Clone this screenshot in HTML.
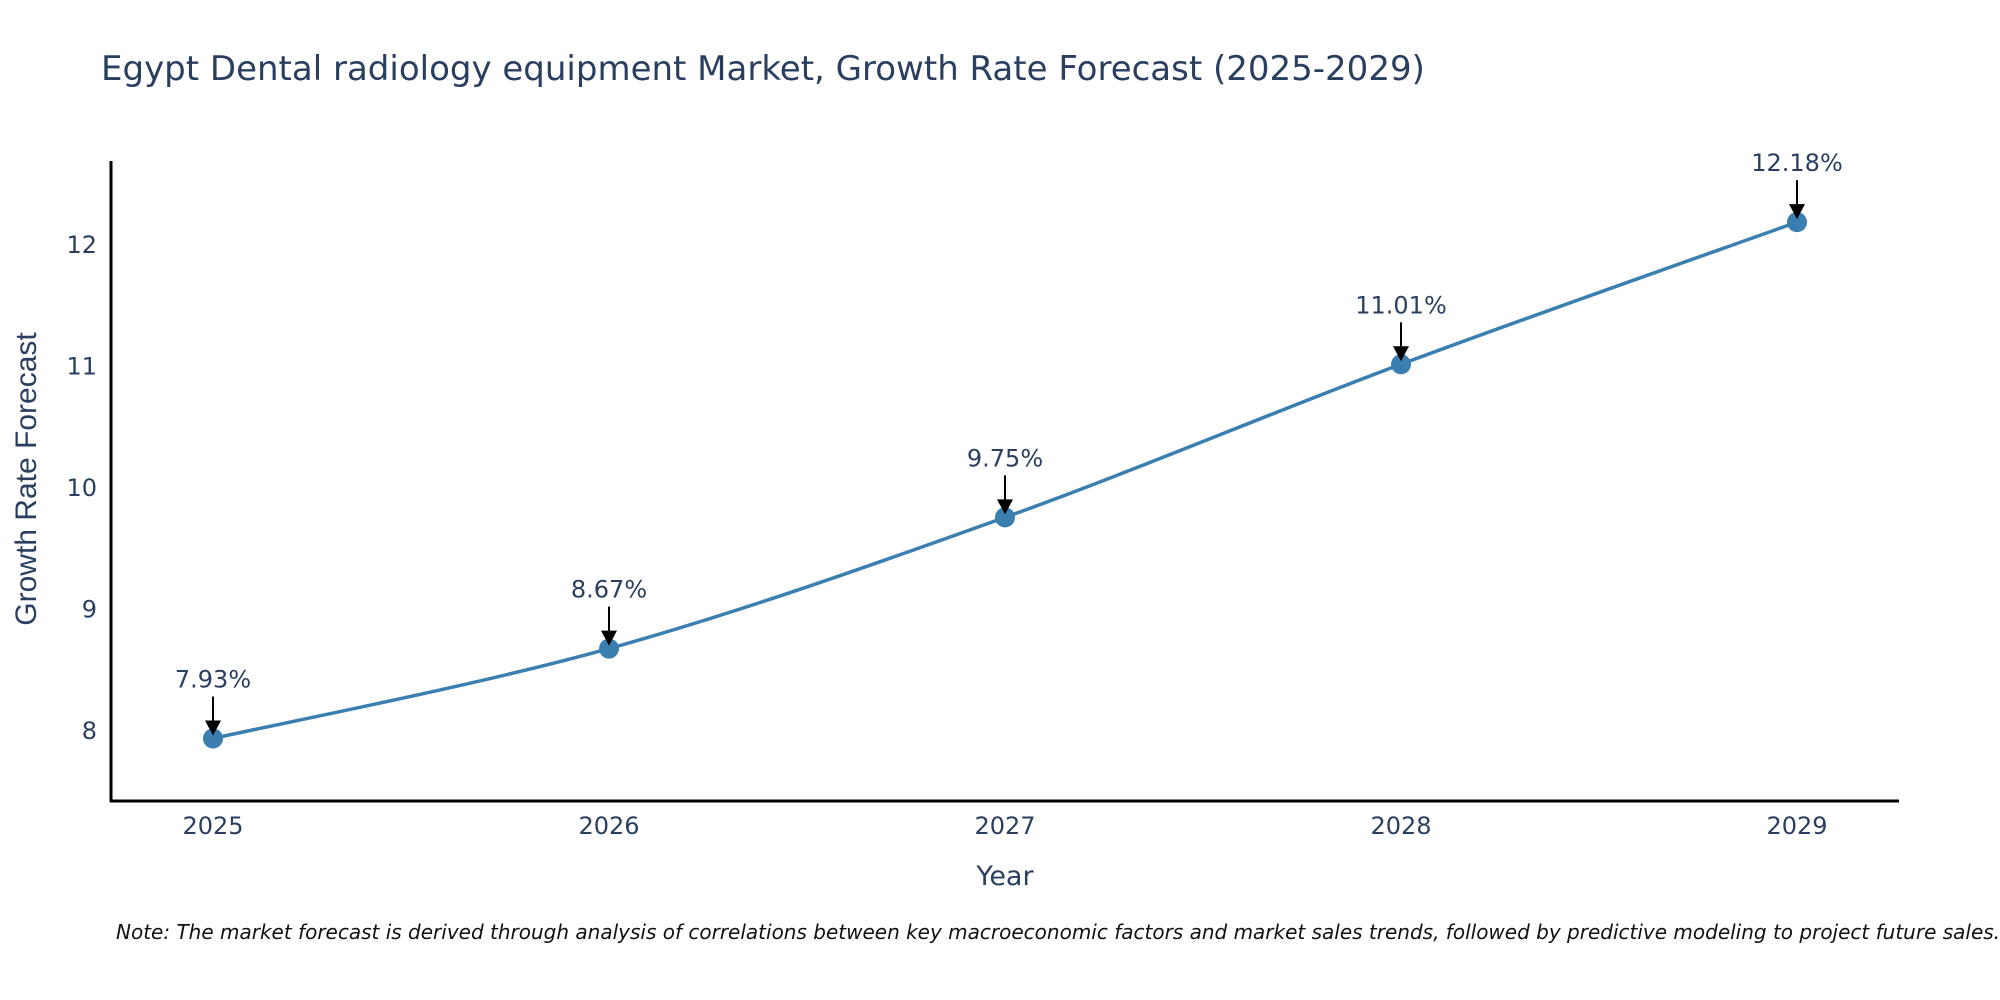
<!DOCTYPE html>
<html><head><meta charset="utf-8"><style>
body{margin:0;background:#fff;}
svg{display:block;font-family:"DejaVu Sans","Liberation Sans",sans-serif;}
</style></head><body>
<svg id="chart" width="2000" height="1000">
<text x="101" y="80" font-size="34" fill="#2a3f5f">Egypt Dental radiology equipment Market, Growth Rate Forecast (2025-2029)</text>
<g id="plot"></g>
<text x="1005" y="885" font-size="27" fill="#2a3f5f" text-anchor="middle">Year</text>
<text transform="translate(36,479) rotate(-90)" font-size="30" font-family="Liberation Sans, sans-serif" fill="#2a3f5f" text-anchor="middle">Growth Rate Forecast</text>
<text x="116" y="939" font-size="20" font-style="italic" fill="#111">Note: The market forecast is derived through analysis of correlations between key macroeconomic factors and market sales trends, followed by predictive modeling to project future sales.</text>
</svg>
<script>
const years = [2025, 2026, 2027, 2028, 2029];
const values = [7.93, 8.67, 9.75, 11.01, 12.18];
const yTicks = [8, 9, 10, 11, 12];
const NS = 'http://www.w3.org/2000/svg';
const g = document.getElementById('plot');
function xs(v){return 213 + (v-2025)*396;}
function ys(v){return 730 - (v-8)*121.5;}
function el(t,a,p){const e=document.createElementNS(NS,t);for(const k in a)e.setAttribute(k,a[k]);(p||g).appendChild(e);return e;}
let e;
e=el('line',{x1:111,y1:161,x2:111,y2:802,stroke:'#000','stroke-width':3});


e=el('line',{x1:110,y1:801,x2:1899,y2:801,stroke:'#000','stroke-width':3});


yTicks.forEach(t=>{
  const tx=el('text',{x:97,y:ys(t)+9,'font-size':24,fill:'#2a3f5f','text-anchor':'end'});
  tx.textContent=t;
  
  
});
years.forEach(y=>{
  const tx=el('text',{x:xs(y),y:834,'font-size':24,fill:'#2a3f5f','text-anchor':'middle'});
  tx.textContent=y;
  
  
});
const pts=years.map((y,i)=>[xs(y),ys(values[i])]);
let d='M'+pts[0][0]+','+pts[0][1];
for(let i=0;i<pts.length-1;i++){
  const p0=pts[Math.max(i-1,0)],p1=pts[i],p2=pts[i+1],p3=pts[Math.min(i+2,pts.length-1)];
  const c1=[p1[0]+(p2[0]-p0[0])/6,p1[1]+(p2[1]-p0[1])/6];
  const c2=[p2[0]-(p3[0]-p1[0])/6,p2[1]-(p3[1]-p1[1])/6];
  d+=' C'+c1+' '+c2+' '+p2;
}
e=el('path',{d:d,fill:'none',stroke:'#3a7fb0','stroke-width':3.5});


pts.forEach((p,i)=>{
  const c=el('circle',{cx:p[0],cy:p[1],r:10,fill:'#3a7fb0'});
  
  
  const l=el('line',{x1:p[0],y1:p[1]-42,x2:p[0],y2:p[1]-16,stroke:'#000','stroke-width':2});
  
  
  const h=el('polygon',{points:(p[0]-8)+','+(p[1]-18)+' '+(p[0]+8)+','+(p[1]-18)+' '+p[0]+','+(p[1]-3),fill:'#000'});
  
  
  const t=el('text',{x:p[0],y:p[1]-51,'font-size':24,fill:'#2a3f5f','text-anchor':'middle'});
  t.textContent=values[i].toFixed(2)+'%';
  
  
});
</script>
</body></html>
